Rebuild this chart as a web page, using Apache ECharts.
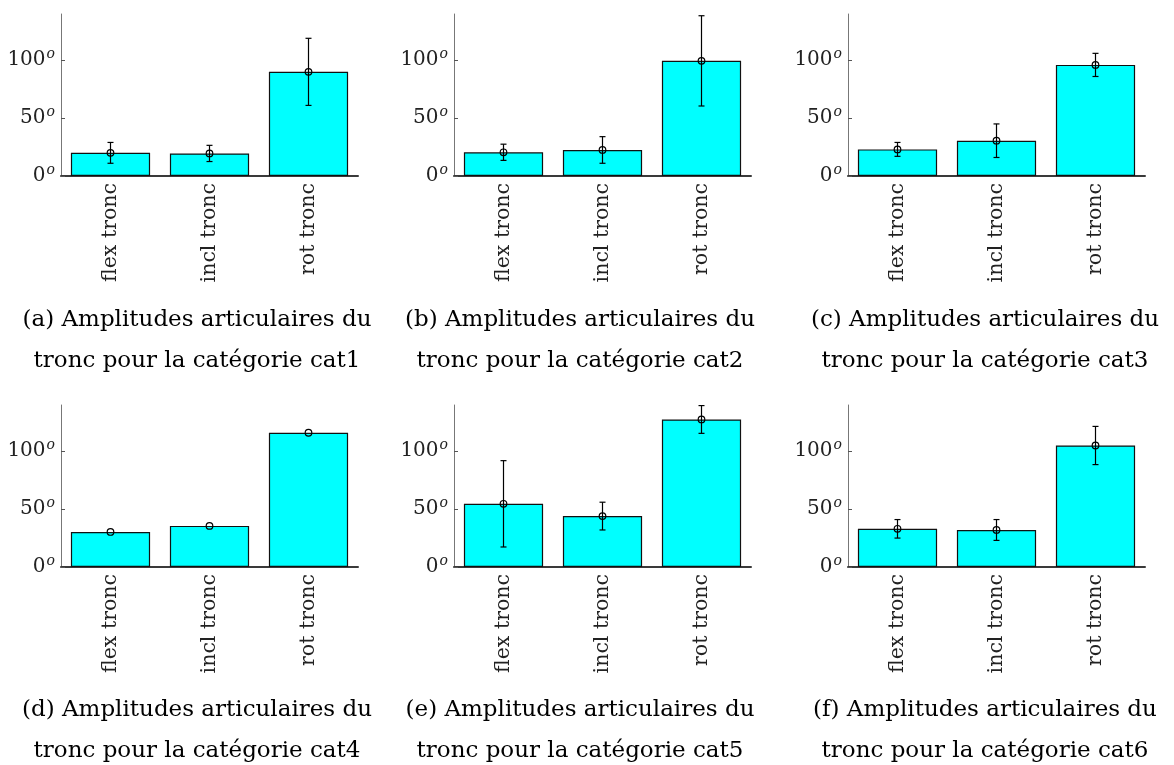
<!DOCTYPE html>
<html><head><meta charset="utf-8">
<script src="https://cdn.jsdelivr.net/npm/echarts@6/dist/echarts.min.js"></script>
<style>html,body{margin:0;padding:0;background:#fff}#c{width:1174px;height:765px}</style>
</head><body><div id="c"></div>
<script>
const categories = ['flex tronc', 'incl tronc', 'rot tronc'];
const yTicks = [0, 50, 100];
const meanCat1 = [20, 19.5, 90];
const stdCat1 = [9, 7, 29];
const meanCat2 = [20.5, 22.5, 99.5];
const stdCat2 = [7, 11.5, 39];
const meanCat3 = [23, 30.5, 96];
const stdCat3 = [6, 14.5, 10];
const meanCat4 = [30.3, 35.5, 116];
const stdCat4 = [0, 0, 0];
const meanCat5 = [54.6, 44, 127.5];
const stdCat5 = [37.3, 12, 12];
const meanCat6 = [33, 32, 105];
const stdCat6 = [8, 9, 16.5];
const captions = [
  '(a) Amplitudes articulaires du\ntronc pour la catégorie cat1',
  '(b) Amplitudes articulaires du\ntronc pour la catégorie cat2',
  '(c) Amplitudes articulaires du\ntronc pour la catégorie cat3',
  '(d) Amplitudes articulaires du\ntronc pour la catégorie cat4',
  '(e) Amplitudes articulaires du\ntronc pour la catégorie cat5',
  '(f) Amplitudes articulaires du\ntronc pour la catégorie cat6'
];
const means = [meanCat1, meanCat2, meanCat3, meanCat4, meanCat5, meanCat6];
const stds = [stdCat1, stdCat2, stdCat3, stdCat4, stdCat5, stdCat6];

const FONT = 'DejaVu Serif';
const gridLefts = [61, 454, 848];
const gridTops = [14, 405];
const captionX = [197, 580, 985];
const captionY = [300, 690];

const grids = [], xAxes = [], yAxes = [], series = [], graphics = [];
for (let k = 0; k < 6; k++) {
  const col = k % 3, row = Math.floor(k / 3);
  grids.push({left: gridLefts[col], top: gridTops[row], width: 297, height: 162});
  xAxes.push({
    type: 'category', gridIndex: k, data: categories, boundaryGap: true,
    axisLine: {lineStyle: {color: '#3a3a3a', width: 2}},
    axisTick: {show: false},
    axisLabel: {rotate: 90, margin: 7, fontFamily: FONT, fontSize: 20.5, color: '#222'}
  });
  yAxes.push({
    type: 'value', gridIndex: k, min: 0, max: 140, interval: 50,
    splitLine: {show: false},
    axisLine: {show: true, lineStyle: {color: '#777', width: 1}},
    axisTick: {show: true, inside: true, length: 4, customValues: yTicks, lineStyle: {color: '#555'}},
    axisLabel: {
      customValues: yTicks, margin: 6,
      formatter: v => '{n|' + v + '}{s|o}',
      rich: {
        n: {fontFamily: FONT, fontSize: 20, color: '#222'},
        s: {fontFamily: FONT, fontSize: 14, fontStyle: 'italic', color: '#222', verticalAlign: 'top', padding: [0, 0, 12, 1]}
      }
    }
  });
  series.push({
    type: 'bar', xAxisIndex: k, yAxisIndex: k, data: means[k], barWidth: '80%',
    itemStyle: {color: '#00ffff', borderColor: '#111', borderWidth: 1.2},
    silent: true
  });
  const ed = means[k].map((m, i) => [i, m, stds[k][i]]);
  series.push({
    type: 'custom', xAxisIndex: k, yAxisIndex: k, data: ed, silent: true, z: 5,
    renderItem: (params, api) => {
      const i = api.value(0), m = api.value(1), s = api.value(2);
      const c = api.coord([i, m]);
      const t = api.coord([i, m + s]);
      const b = api.coord([i, m - s]);
      const st = {stroke: '#000', lineWidth: 1.2, fill: null};
      const children = [];
      if (s > 0) {
        children.push({type: 'line', shape: {x1: c[0], y1: t[1], x2: c[0], y2: b[1]}, style: st});
        children.push({type: 'line', shape: {x1: c[0] - 3, y1: t[1], x2: c[0] + 3, y2: t[1]}, style: st});
        children.push({type: 'line', shape: {x1: c[0] - 3, y1: b[1], x2: c[0] + 3, y2: b[1]}, style: st});
      }
      children.push({type: 'circle', shape: {cx: c[0], cy: c[1], r: 3.3}, style: {stroke: '#000', lineWidth: 1.2, fill: 'none'}});
      return {type: 'group', children};
    }
  });
  graphics.push({
    type: 'text', x: captionX[col], y: captionY[row],
    style: {text: captions[k], fontFamily: FONT, fontSize: 23, lineHeight: 41, fill: '#000', align: 'center', verticalAlign: 'top'}
  });
}

const chart = echarts.init(document.getElementById('c'), null, {renderer: 'canvas'});
chart.setOption({
  backgroundColor: '#fff', animation: false,
  grid: grids, xAxis: xAxes, yAxis: yAxes, series: series, graphic: graphics
});
</script></body></html>
